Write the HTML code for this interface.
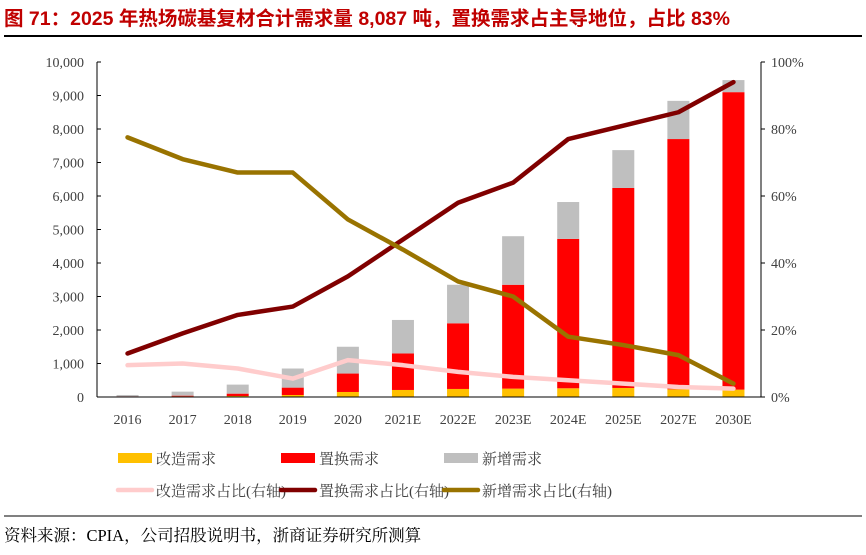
<!DOCTYPE html>
<html><head><meta charset="utf-8">
<style>
body{margin:0;background:#fff;width:866px;height:550px;overflow:hidden;font-family:"Liberation Serif","Noto Serif CJK SC",serif;}
svg text{font-family:"Liberation Serif","Noto Serif CJK SC",serif;}
</style></head>
<body>
<svg id="chart" width="866" height="550" xmlns="http://www.w3.org/2000/svg">
<text x="4" y="25" fill="#c00000" font-size="19.5" font-weight="bold" style="font-family:'Liberation Sans','Noto Sans CJK SC',sans-serif">图 71：2025 年热场碳基复材合计需求量 8,087 吨，置换需求占主导地位，占比 83%</text>
<line x1="4" y1="36" x2="862" y2="36" stroke="#000" stroke-width="2"/>
<g id="plot"></g>
<g id="legend"></g>
<line x1="4" y1="516" x2="862" y2="516" stroke="#000" stroke-width="1"/>
<text x="4" y="541" font-size="16.5" fill="#000">资料来源：CPIA，公司招股说明书，浙商证券研究所测算</text>
</svg>
<script>
const categories=["2016","2017","2018","2019","2020","2021E","2022E","2023E","2024E","2025E","2027E","2030E"];
const retrofit=[10,20,30,60,150,210,240,250,260,270,230,220];
const replacement=[20,40,100,280,700,1300,2200,3350,4720,6240,7700,9100];
const newTotal=[60,160,370,850,1500,2300,3350,4800,5820,7370,8840,9460];
const retrofitPct=[9.5,10,8.5,5.5,11,9.5,7.5,6,5,4,3,2.5];
const replacePct=[13,19,24.5,27,36,47,58,64,77,81,85,94];
const newPct=[77.5,71,67,67,53,44,34.5,30,18,15.5,12.5,4];
const leftTicks=[0,1000,2000,3000,4000,5000,6000,7000,8000,9000,10000];
const rightTicks=[0,20,40,60,80,100];

const NS="http://www.w3.org/2000/svg";
const X0=100,X1=761,Y0=397,Y1=62;
const band=(X1-X0)/categories.length;
const xc=i=>X0+band*(i+0.5);
const yL=v=>Y0-(v/10000)*(Y0-Y1);
const yR=v=>Y0-(v/100)*(Y0-Y1);
const plot=document.getElementById('plot');
function mk(tag,attrs,parent){const e=document.createElementNS(NS,tag);for(const k in attrs)e.setAttribute(k,attrs[k]);(parent||plot).appendChild(e);return e;}

let a=mk('line',{x1:X0-3,y1:Y1,x2:X0-3,y2:Y0,stroke:'#000','stroke-width':1});


a=mk('line',{x1:X1,y1:Y1,x2:X1,y2:Y0,stroke:'#000','stroke-width':1});


leftTicks.forEach(v=>{
  mk('line',{x1:X0-3,y1:yL(v),x2:X0+1,y2:yL(v),stroke:'#000'});
  const t=mk('text',{x:X0-16,y:yL(v)+5,'text-anchor':'end','font-size':14,fill:'#404040'});
  t.textContent=v.toLocaleString('en-US');
  
  
});
rightTicks.forEach(v=>{
  mk('line',{x1:X1,y1:yR(v),x2:X1+4,y2:yR(v),stroke:'#000'});
  const t=mk('text',{x:X1+10,y:yR(v)+5,'font-size':14,fill:'#404040'});
  t.textContent=v+'%';
  
  
});
const bw=22;
categories.forEach((c,i)=>{
  const segs=[[0,retrofit[i],'#ffc000','bar-retrofit'],[retrofit[i],replacement[i],'#ff0000','bar-replacement'],[replacement[i],newTotal[i],'#bfbfbf','bar-new']];
  segs.forEach(s=>{
    const r=mk('rect',{x:xc(i)-bw/2,y:yL(s[1]),width:bw,height:Math.max(0,yL(s[0])-yL(s[1])),fill:s[2]});
    
    
  });
  const t=mk('text',{x:xc(i),y:Y0+27,'text-anchor':'middle','font-size':14,fill:'#404040'});
  t.textContent=c;
  
  
});
let b=mk('line',{x1:X0-3,y1:Y0,x2:X1,y2:Y0,stroke:'#000','stroke-width':1});


function line(vals,color,name){
  const p=mk('polyline',{points:vals.map((v,i)=>xc(i)+','+yR(v)).join(' '),fill:'none',stroke:color,'stroke-width':4.5,'stroke-linejoin':'round','stroke-linecap':'round'});
  
  
}
line(retrofitPct,'#ffcccc','line-retrofit-share');
line(replacePct,'#800000','line-replacement-share');
line(newPct,'#997300','line-new-share');
const lg=document.getElementById('legend');
const items=[
 [118,458,'rect','#ffc000','改造需求','legend-retrofit'],
 [281,458,'rect','#ff0000','置换需求','legend-replacement'],
 [444,458,'rect','#bfbfbf','新增需求','legend-new'],
 [118,490,'line','#ffcccc','改造需求占比(右轴)','legend-retrofit-share'],
 [281,490,'line','#800000','置换需求占比(右轴)','legend-replacement-share'],
 [444,490,'line','#997300','新增需求占比(右轴)','legend-new-share']];
items.forEach(it=>{
  const g=mk('g',{},lg);
  
  
  if(it[2]==='rect') mk('rect',{x:it[0],y:it[1]-5,width:34,height:10,fill:it[3]},g);
  else mk('line',{x1:it[0],y1:it[1],x2:it[0]+34,y2:it[1],stroke:it[3],'stroke-width':4.5,'stroke-linecap':'round'},g);
  const t=mk('text',{x:it[0]+38,y:it[1]+6,'font-size':15,fill:'#404040'},g);
  t.textContent=it[4];
});
</script>
</body></html>
